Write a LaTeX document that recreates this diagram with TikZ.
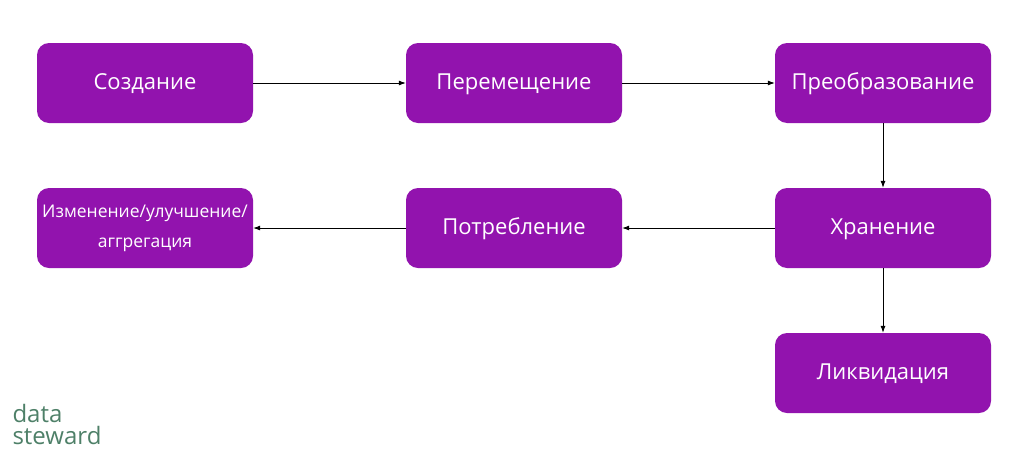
\documentclass[tikz,border=0pt]{standalone}
\usepackage{fontspec}
\setmainfont{Open Sans}
\usetikzlibrary{positioning,arrows.meta}
\definecolor{stagefill}{HTML}{9213AE}
\definecolor{logogreen}{HTML}{4E8068}
\tikzstyle{every picture}+=[>=latex]
\begin{document}
\begin{tikzpicture}[x=1pt,y=-1pt,
	stage/.style={rectangle, rounded corners=12pt, fill=stagefill, text=white,
		minimum width=216pt, minimum height=80pt, inner sep=0pt,
		text height=16pt, text depth=4pt, font=\fontsize{22}{26}\selectfont},
	flow/.style={-{Latex[length=7pt,width=5pt]}, line width=0.8pt}]
	\useasboundingbox (0,0) rectangle (1024,453);
	% first row
	\node[stage] (create) at (145,83) {Создание};
	\node[stage] (move) at (514,83) {Перемещение};
	\node[stage] (transform) at (883,83) {Преобразование};
	% second row
	\node[stage] (store) at (883,228) {Хранение};
	\node[stage] (consume) at (514,228) {Потребление};
	\node[stage, align=center, text height=, text depth=, font=\fontsize{17.5}{30}\selectfont] (change) at (145,228) {Изменение/улучшение/\\аггрегация};
	% last
	\node[stage] (purge) at (883,373) {Ликвидация};
	\draw[flow] (create) -- (move);
	\draw[flow] (move) -- (transform);
	\draw[flow] (transform) -- (store);
	\draw[flow] (store) -- (consume);
	\draw[flow] (consume) -- (change);
	\draw[flow] (store) -- (purge);
	% logo
	\node[text=logogreen, align=left, font=\fontsize{24}{22}\selectfont, inner sep=0pt] (logo) at (57,424) {data\\steward};
\end{tikzpicture}
\end{document}
